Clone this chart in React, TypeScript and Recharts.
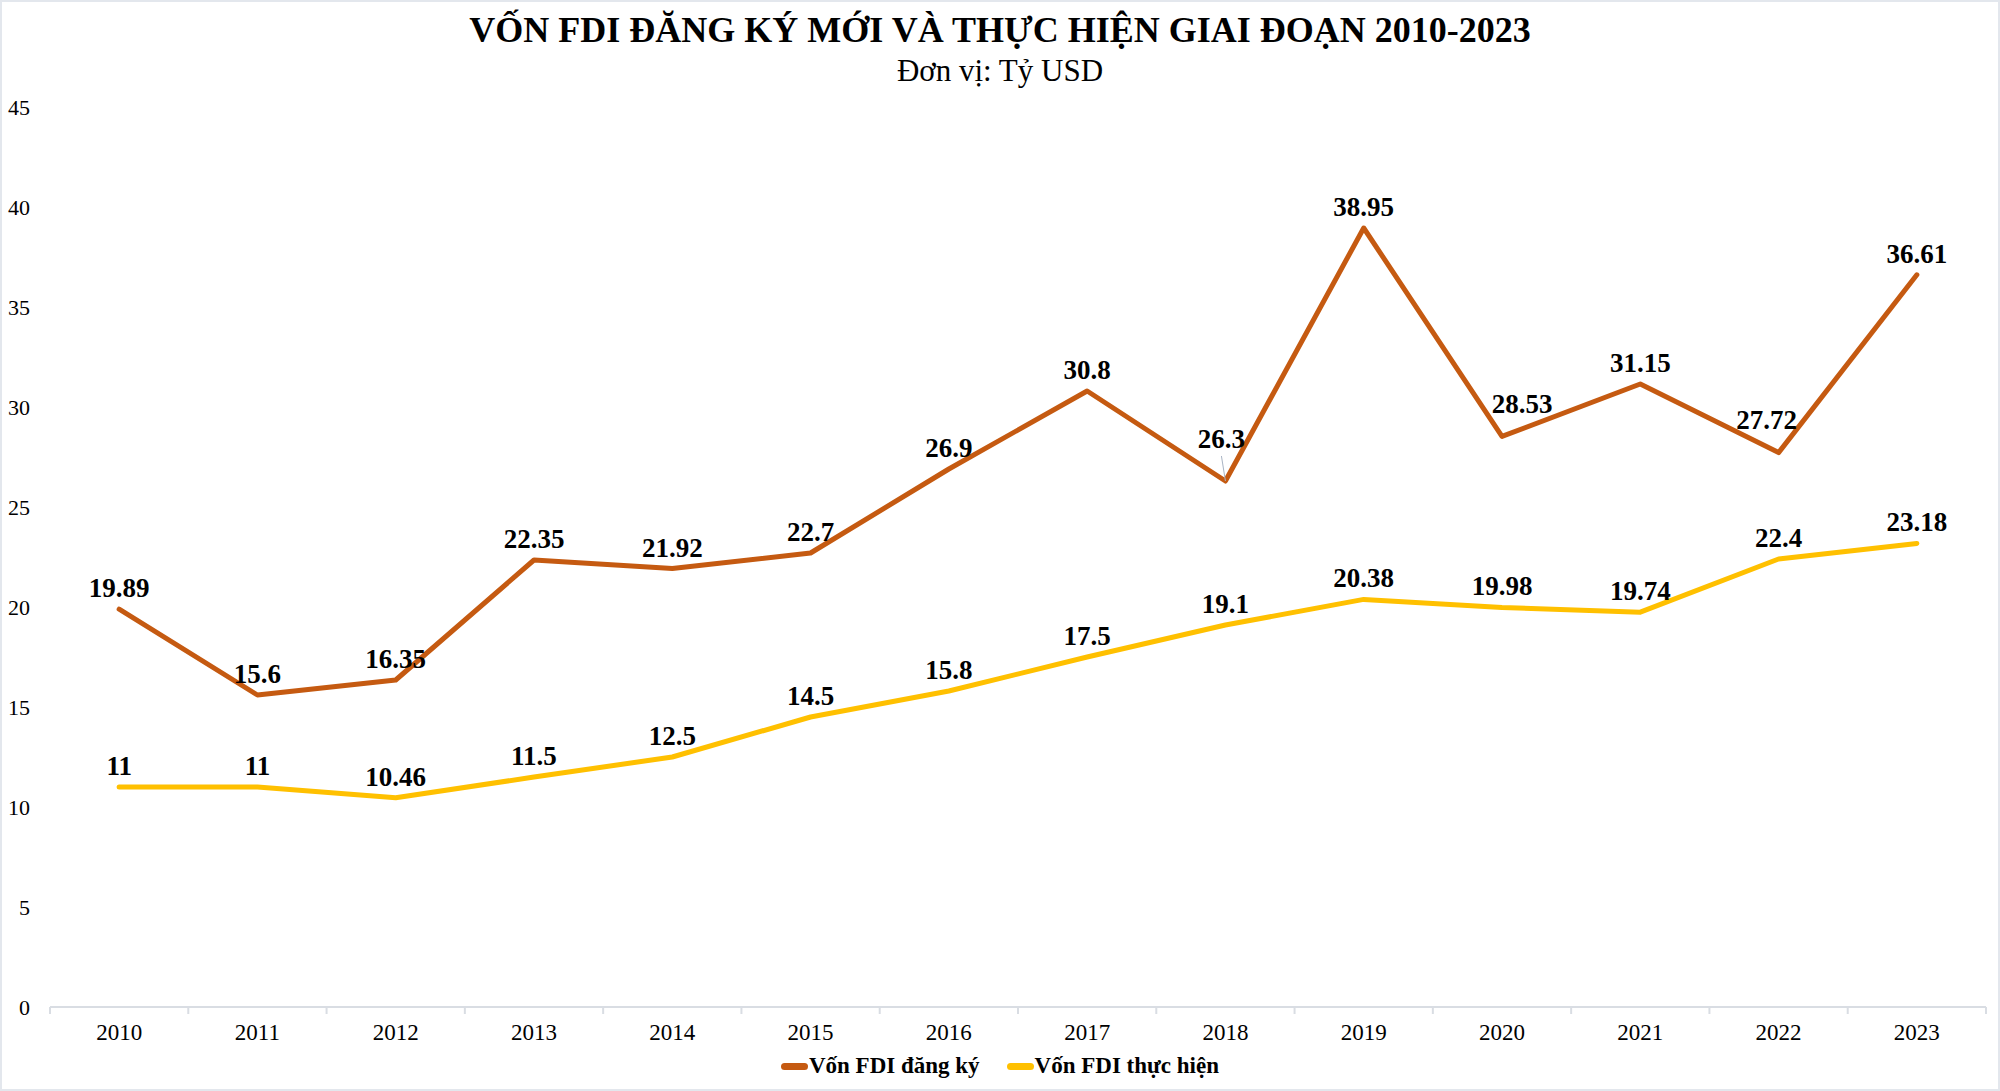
import { LineChart, Line, XAxis, YAxis, Legend, LabelList } from "recharts";

// Vốn FDI, đơn vị tỷ USD
const years = [
  "2010", "2011", "2012", "2013", "2014", "2015", "2016",
  "2017", "2018", "2019", "2020", "2021", "2022", "2023",
];
const registered = [19.89, 15.6, 16.35, 22.35, 21.92, 22.7, 26.9, 30.8, 26.3, 38.95, 28.53, 31.15, 27.72, 36.61];
const disbursed = [11, 11, 10.46, 11.5, 12.5, 14.5, 15.8, 17.5, 19.1, 20.38, 19.98, 19.74, 22.4, 23.18];
const yTicks = [0, 5, 10, 15, 20, 25, 30, 35, 40, 45];

const data = years.map((year, i) => ({
  year,
  registered: registered[i],
  disbursed: disbursed[i],
}));

const W = 2000;
const H = 1091;
const MARGIN = { top: 107, right: 14, left: 0, bottom: 44 };
const Y_WIDTH = 50;
const BAND = (W - MARGIN.right - MARGIN.left - Y_WIDTH) / years.length;

const ORANGE = "#C55A11";
const YELLOW = "#FFC000";
const FONT = "'Liberation Serif', 'Times New Roman', serif";
const GRID = "#D9DDE3";

// a few labels sit off-centre in the original, with leader lines
const nudgeRegistered: Record<number, { dx: number; dy: number; lead?: boolean }> = {
  8: { dx: -4, dy: -21, lead: true },
  10: { dx: 20, dy: -11 },
  12: { dx: -12, dy: -12 },
};

const makeLabel =
  (nudge: Record<number, { dx: number; dy: number; lead?: boolean }>) =>
  (props: any) => {
    const { x, y, value, index } = props;
    const n = nudge[index] || { dx: 0, dy: 0 };
    const bx = x + n.dx;
    const by = y - 12 + n.dy;
    return (
      <g>
        {n.lead && (
          <line x1={x} y1={y} x2={bx} y2={by + 8} stroke="#A9B4C4" strokeWidth={1} />
        )}
        <text
          x={bx}
          y={by}
          textAnchor="middle"
          fontFamily={FONT}
          fontWeight="bold"
          fontSize={27}
          fill="#000"
        >
          {value}
        </text>
      </g>
    );
  };

// category label plus Excel-style tick marks on the band edges
const XTick = (props: any) => {
  const { x, y, payload, index } = props;
  const axisY = y - 17;
  return (
    <g>
      <line x1={x - BAND / 2} y1={axisY} x2={x - BAND / 2} y2={axisY + 7} stroke={GRID} strokeWidth={2} />
      {index === years.length - 1 && (
        <line x1={x + BAND / 2} y1={axisY} x2={x + BAND / 2} y2={axisY + 7} stroke={GRID} strokeWidth={2} />
      )}
      <text x={x} y={y} dy="0.71em" textAnchor="middle" fontFamily={FONT} fontSize={23} fill="#000">
        {payload.value}
      </text>
    </g>
  );
};

const legendItems = [
  { name: "Vốn FDI đăng ký", color: ORANGE },
  { name: "Vốn FDI thực hiện", color: YELLOW },
];

const renderLegend = () => (
  <div style={{ display: "flex", justifyContent: "center", gap: 27, fontFamily: FONT }}>
    {legendItems.map((it) => (
      <div key={it.name} style={{ display: "flex", alignItems: "center" }}>
        <span
          style={{
            display: "inline-block",
            width: 27,
            height: 7,
            borderRadius: 3.5,
            background: it.color,
            marginRight: 1,
          }}
        />
        <span style={{ fontSize: 23, fontWeight: "bold", color: "#000" }}>{it.name}</span>
      </div>
    ))}
  </div>
);

export default function App() {
  return (
    <div
      style={{
        position: "absolute",
        left: 0,
        top: 0,
        width: W,
        height: H,
        background: "#fff",
        fontFamily: FONT,
      }}
    >
      <div
        style={{
          position: "absolute",
          inset: 0,
          border: "2px solid #E3E7ED",
          boxSizing: "border-box",
          pointerEvents: "none",
        }}
      />
      <div
        style={{
          position: "absolute",
          top: 10,
          width: "100%",
          textAlign: "center",
          fontSize: 36,
          fontWeight: "bold",
          lineHeight: "40px",
          color: "#000",
        }}
      >
        VỐN FDI ĐĂNG KÝ MỚI VÀ THỰC HIỆN GIAI ĐOẠN 2010-2023
      </div>
      <div
        style={{
          position: "absolute",
          top: 54,
          width: "100%",
          textAlign: "center",
          fontSize: 31,
          lineHeight: "34px",
          color: "#000",
        }}
      >
        Đơn vị: Tỷ USD
      </div>
      <LineChart width={W} height={H} data={data} margin={MARGIN}>
        <XAxis
          dataKey="year"
          scale="band"
          height={40}
          axisLine={{ stroke: GRID, strokeWidth: 2 }}
          tickLine={false}
          tickSize={0}
          tickMargin={17}
          tick={<XTick />}
          interval={0}
        />
        <YAxis
          domain={[0, 45]}
          ticks={yTicks}
          width={Y_WIDTH}
          axisLine={false}
          tickLine={false}
          tickSize={0}
          tickMargin={20}
          tick={{ fontSize: 22, fill: "#000", fontFamily: FONT }}
        />
        <Legend
          verticalAlign="middle"
          align="center"
          layout="horizontal"
          wrapperStyle={{ top: 1053, left: 0, width: W }}
          content={renderLegend}
        />
        <Line
          dataKey="registered"
          name="Vốn FDI đăng ký"
          stroke={ORANGE}
          strokeWidth={5}
          strokeLinecap="round"
          strokeLinejoin="round"
          dot={false}
          isAnimationActive={false}
        >
          <LabelList dataKey="registered" content={makeLabel(nudgeRegistered)} />
        </Line>
        <Line
          dataKey="disbursed"
          name="Vốn FDI thực hiện"
          stroke={YELLOW}
          strokeWidth={5}
          strokeLinecap="round"
          strokeLinejoin="round"
          dot={false}
          isAnimationActive={false}
        >
          <LabelList dataKey="disbursed" content={makeLabel({})} />
        </Line>
      </LineChart>
    </div>
  );
}
